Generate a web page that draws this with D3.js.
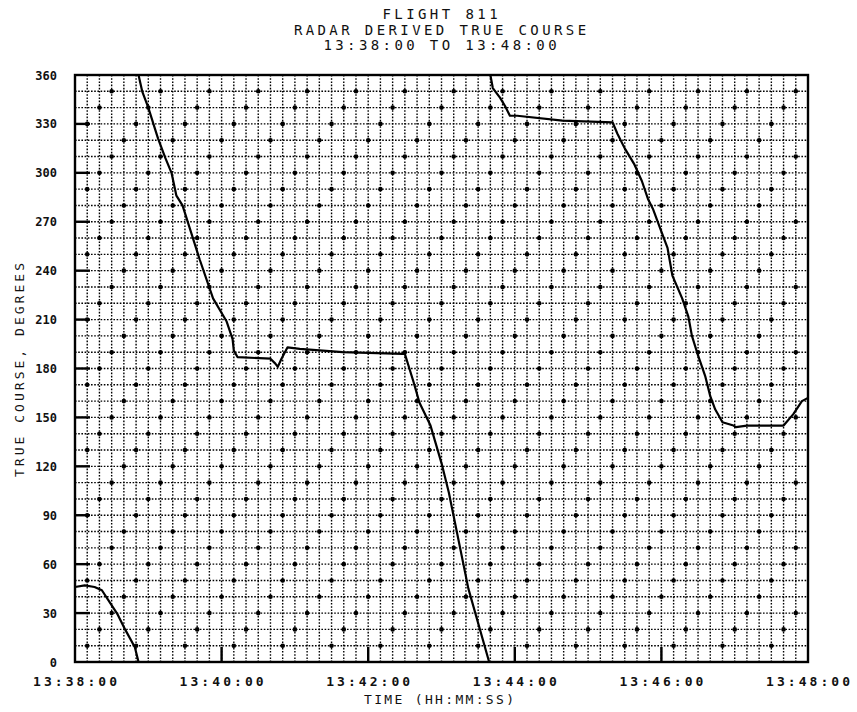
<!DOCTYPE html>
<html>
<head>
<meta charset="utf-8">
<script src="https://cdn.jsdelivr.net/npm/d3@7/dist/d3.min.js"></script>
<style>
  html, body { margin: 0; padding: 0; background: #fff; }
  svg { display: block; }
  text { font-family: "DejaVu Sans Mono", monospace; fill: #111; }
</style>
</head>
<body>
<svg id="chart" width="857" height="712"></svg>
<script>
// ---- data ----
const titleLines = ["FLIGHT 811", "RADAR DERIVED TRUE COURSE", "13:38:00 TO 13:48:00"];
const xTickLabels = ["13:38:00", "13:40:00", "13:42:00", "13:44:00", "13:46:00", "13:48:00"];
const yTickValues = [0, 30, 60, 90, 120, 150, 180, 210, 240, 270, 300, 330, 360];
const xAxisTitle = "TIME (HH:MM:SS)";
const yAxisTitle = "TRUE COURSE, DEGREES";

const seg1Times = ["13:38:00","13:38:08","13:38:16","13:38:22","13:38:29","13:38:35","13:38:41","13:38:49","13:38:52"];
const seg1Course = [46, 47, 46, 44, 36, 29, 20, 9, 0];

const seg2Times = ["13:38:52","13:38:55","13:39:00","13:39:08","13:39:14","13:39:19","13:39:23","13:39:28","13:39:42","13:39:53",
  "13:40:04","13:40:09","13:40:10","13:40:13","13:40:40","13:40:44","13:40:46","13:40:49","13:40:54","13:41:04",
  "13:41:39","13:42:28","13:42:30","13:42:37","13:42:42","13:42:51","13:43:00","13:43:06","13:43:22","13:43:39"];
const seg2Course = [360, 350, 340, 321, 309, 300, 286, 280, 247, 223,
  209, 198, 191, 187, 186, 183, 181, 186, 193, 192,
  190, 189, 189, 172, 159, 145, 122, 104, 45, 0];

const seg3Times = ["13:43:40","13:43:42","13:43:48","13:43:52","13:43:56","13:44:02","13:44:39","13:45:20","13:45:24","13:45:30",
  "13:45:38","13:45:44","13:45:49","13:45:53","13:45:59","13:46:05","13:46:09","13:46:17","13:46:22","13:46:25",
  "13:46:30","13:46:36","13:46:40","13:46:44","13:46:50","13:46:59","13:47:01","13:47:10","13:47:40","13:47:48",
  "13:47:55","13:48:00"];
const seg3Course = [360, 352, 346, 341, 335, 335, 332, 331, 324, 315,
  305, 295, 284, 278, 266, 254, 237, 223, 212, 200,
  188, 175, 163, 155, 147, 145, 144, 145, 145, 152,
  160, 162];

// ---- setup ----
const parse = d3.timeParse("%H:%M:%S");
const svg = d3.select("#chart");
const W = 857, H = 712;
const m = { left: 75, right: 49, top: 75, bottom: 50 };
const x0 = m.left, x1 = W - m.right, y0 = m.top, y1 = H - m.bottom;

const x = d3.scaleTime().domain([parse("13:38:00"), parse("13:48:00")]).range([x0, x1]);
const y = d3.scaleLinear().domain([0, 360]).range([y1, y0]);

svg.append("rect").attr("width", W).attr("height", H).attr("fill", "#fff");

// ---- grid: every 10 s and every 10 degrees, dotted ----
const gridTimes = d3.range(0, 601, 10).map(s => new Date(x.domain()[0].getTime() + s * 1000));
const gridDeg = d3.range(0, 361, 10);
const g = svg.append("g");
g.selectAll("line.v").data(gridTimes.slice(1, -1)).join("line")
  .attr("x1", d => x(d)).attr("x2", d => x(d)).attr("y1", y0).attr("y2", y1)
  .attr("stroke", "#000").attr("stroke-width", 1.4).attr("stroke-dasharray", "1.6,1.6");
g.selectAll("line.h").data(gridDeg.slice(1, -1)).join("line")
  .attr("x1", x0).attr("x2", x1).attr("y1", d => y(d)).attr("y2", d => y(d))
  .attr("stroke", "#000").attr("stroke-width", 1.4).attr("stroke-dasharray", "1.6,1.6");

// plotter dots at grid intersections (regular pattern)
const dots = [];
gridDeg.slice(1, -1).forEach((d, j) => {
  gridTimes.slice(1, -1).forEach((t, i) => {
    if ((i + 3 * j) % 4 === 0) dots.push([t, d]);
  });
});
g.selectAll("circle").data(dots).join("circle")
  .attr("cx", d => x(d[0])).attr("cy", d => y(d[1])).attr("r", 2.3).attr("fill", "#000");

// ---- frame ----
svg.append("rect").attr("x", x0).attr("y", y0).attr("width", x1 - x0).attr("height", y1 - y0)
  .attr("fill", "none").attr("stroke", "#000").attr("stroke-width", 2.4);

// ---- ticks ----
svg.append("g").selectAll("line").data(yTickValues.slice(1, -1)).join("line")
  .attr("x1", x0).attr("x2", x0 + 15).attr("y1", d => y(d)).attr("y2", d => y(d))
  .attr("stroke", "#000").attr("stroke-width", 2.4);
svg.append("g").selectAll("line").data(xTickLabels.slice(1, -1)).join("line")
  .attr("x1", d => x(parse(d))).attr("x2", d => x(parse(d))).attr("y1", y1).attr("y2", y1 - 15)
  .attr("stroke", "#000").attr("stroke-width", 2.4);

// ---- tick labels ----
svg.append("g").selectAll("text").data(yTickValues).join("text")
  .attr("x", 57).attr("y", d => y(d) + 4.5)
  .attr("text-anchor", "end").attr("font-size", 12).attr("font-weight", "bold")
  .attr("textLength", d => String(d).length * 7.6 - 1).attr("lengthAdjust", "spacing")
  .text(d => d);

svg.append("g").selectAll("text").data(xTickLabels).join("text")
  .attr("x", d => x(parse(d))).attr("y", 686)
  .attr("text-anchor", "middle").attr("font-size", 13).attr("font-weight", "bold")
  .attr("textLength", 84).attr("lengthAdjust", "spacing")
  .text(d => d);

// ---- titles ----
const titleY = [19, 35, 50];
svg.append("g").selectAll("text").data(titleLines).join("text")
  .attr("x", 440).attr("y", (d, i) => titleY[i])
  .attr("text-anchor", "middle").attr("font-size", 14)
  .attr("textLength", d => d.length * 11.8 - 2.8).attr("lengthAdjust", "spacing")
  .text(d => d);

svg.append("text").attr("x", 439).attr("y", 704).attr("text-anchor", "middle")
  .attr("font-size", 13).attr("textLength", 150).attr("lengthAdjust", "spacing")
  .text(xAxisTitle);

svg.append("text").attr("transform", "translate(24,370) rotate(-90)").attr("text-anchor", "middle")
  .attr("font-size", 13).attr("textLength", 214).attr("lengthAdjust", "spacing")
  .text(yAxisTitle);

// ---- course line segments ----
const line = d3.line().x(d => x(d[0])).y(d => y(d[1]));
[[seg1Times, seg1Course], [seg2Times, seg2Course], [seg3Times, seg3Course]].forEach(([ts, vs]) => {
  const pts = ts.map((t, i) => [parse(t), vs[i]]);
  svg.append("path").datum(pts).attr("d", line)
    .attr("fill", "none").attr("stroke", "#000").attr("stroke-width", 2.2)
    .attr("stroke-linejoin", "round");
});
</script>
</body>
</html>
